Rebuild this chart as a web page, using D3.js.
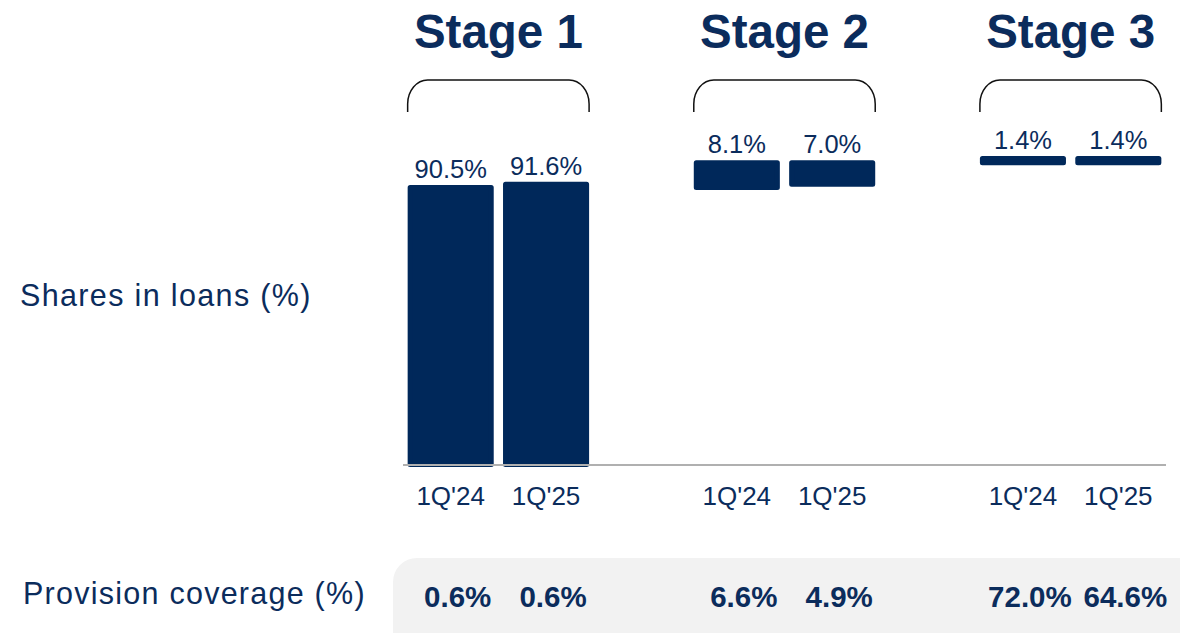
<!DOCTYPE html>
<html>
<head>
<meta charset="utf-8">
<script src="https://cdn.jsdelivr.net/npm/d3@7/dist/d3.min.js"></script>
<style>
  html, body { margin: 0; padding: 0; background: #fff; }
  svg { display: block; font-family: "Liberation Sans", Arial, Helvetica, sans-serif; }
</style>
</head>
<body>
<svg id="chart" width="1180" height="633"></svg>
<script>
// Loan stages and reporting periods
const stages = ["Stage 1", "Stage 2", "Stage 3"];
const periods = ["1Q'24", "1Q'25"];

// Share of each stage in total loans (%), by period
const shares1Q24 = [90.5, 8.1, 1.4];
const shares1Q25 = [91.6, 7.0, 1.4];

// Provision coverage (%) per stage, by period
const coverage1Q24 = [0.6, 6.6, 72.0];
const coverage1Q25 = [0.6, 4.9, 64.6];

const rowLabels = ["Shares in loans (%)", "Provision coverage (%)"];

const navy = "#00285a";
const textNavy = "#0b2c5c";

const shareSeries = [shares1Q24, shares1Q25];
const coverageSeries = [coverage1Q24, coverage1Q25];

// One slot per bar with an empty slot between stages
const slotKeys = [];
stages.forEach((s, i) => {
  periods.forEach(p => slotKeys.push(s + "|" + p));
  if (i < stages.length - 1) slotKeys.push("gap" + i);
});

// Flatten into bar records; each stage is stacked on the earlier ones (waterfall to 100%)
const bars = [];
stages.forEach((s, si) => {
  periods.forEach((p, pi) => {
    const vals = shareSeries[pi];
    const base = d3.sum(vals.slice(0, si));
    bars.push({
      stage: s, period: p, key: s + "|" + p,
      value: vals[si], base: base, top: base + vals[si],
      coverage: coverageSeries[pi][si]
    });
  });
});

const svg = d3.select("#chart");

const x = d3.scaleBand()
  .domain(slotKeys)
  .range([403, 1166])
  .paddingInner(0.15)
  .paddingOuter(0.075);

const y = d3.scaleLinear().domain([0, 100]).range([464.5, 158.5]);

const barStroke = 5;
const half = barStroke / 2;
const bw = x.bandwidth();
const cx = d => x(d.key) + bw / 2;

// Provision coverage background band
svg.append("rect")
  .attr("x", 393).attr("y", 558)
  .attr("width", 860).attr("height", 120)
  .attr("rx", 24)
  .attr("fill", "#f2f2f2");

// Bars
svg.append("g").selectAll("rect")
  .data(bars)
  .join("rect")
  .attr("x", d => x(d.key))
  .attr("y", d => y(d.top))
  .attr("width", bw)
  .attr("height", d => y(d.base) - y(d.top))
  .attr("fill", navy)
  .attr("stroke", navy)
  .attr("stroke-width", barStroke)
  .attr("stroke-linejoin", "round");

// Baseline
svg.append("line")
  .attr("x1", x.range()[0]).attr("x2", x.range()[1])
  .attr("y1", y(0) + 0.5).attr("y2", y(0) + 0.5)
  .attr("stroke", "#b0b0b0")
  .attr("stroke-width", 2);

// Value labels above bars
svg.append("g").selectAll("text")
  .data(bars)
  .join("text")
  .attr("x", cx)
  .attr("y", d => y(d.top) - half - 7)
  .attr("text-anchor", "middle")
  .attr("font-size", 25.5)
  .attr("fill", textNavy)
  .text(d => d.value.toFixed(1) + "%");

// Period labels under the baseline
svg.append("g").selectAll("text")
  .data(bars)
  .join("text")
  .attr("x", cx)
  .attr("y", 505)
  .attr("text-anchor", "middle")
  .attr("font-size", 26)
  .attr("fill", textNavy)
  .text(d => d.period);

// Stage titles and brackets
const groups = stages.map(s => {
  const first = x(s + "|" + periods[0]);
  const last = x(s + "|" + periods[periods.length - 1]) + bw;
  return { stage: s, x0: first - half, x1: last + half };
});

svg.append("g").selectAll("text")
  .data(groups)
  .join("text")
  .attr("x", g => (g.x0 + g.x1) / 2)
  .attr("y", 48)
  .attr("text-anchor", "middle")
  .attr("font-size", 47.5)
  .attr("font-weight", "bold")
  .attr("fill", textNavy)
  .text(g => g.stage);

const bTop = 80, bBot = 112, rx = 20, ry = 24;
svg.append("g").selectAll("path")
  .data(groups)
  .join("path")
  .attr("d", g => {
    const p = d3.path();
    p.moveTo(g.x0, bBot);
    p.lineTo(g.x0, bTop + ry);
    p.bezierCurveTo(g.x0, bTop + ry * 0.45, g.x0 + rx * 0.45, bTop, g.x0 + rx, bTop);
    p.lineTo(g.x1 - rx, bTop);
    p.bezierCurveTo(g.x1 - rx * 0.45, bTop, g.x1, bTop + ry * 0.45, g.x1, bTop + ry);
    p.lineTo(g.x1, bBot);
    return p.toString();
  })
  .attr("fill", "none")
  .attr("stroke", "#111")
  .attr("stroke-width", 1.5);

// Provision coverage values
svg.append("g").selectAll("text")
  .data(bars)
  .join("text")
  .attr("x", d => cx(d) + 7)
  .attr("y", 607)
  .attr("text-anchor", "middle")
  .attr("font-size", 29.5)
  .attr("font-weight", "bold")
  .attr("fill", textNavy)
  .text(d => d.coverage.toFixed(1) + "%");

// Row labels
svg.append("text")
  .attr("x", 20).attr("y", 306)
  .attr("font-size", 30.5)
  .attr("letter-spacing", 1.35)
  .attr("fill", textNavy)
  .text(rowLabels[0]);

svg.append("text")
  .attr("x", 23).attr("y", 604)
  .attr("font-size", 30.5)
  .attr("letter-spacing", 1.25)
  .attr("fill", textNavy)
  .text(rowLabels[1]);
</script>
</body>
</html>
